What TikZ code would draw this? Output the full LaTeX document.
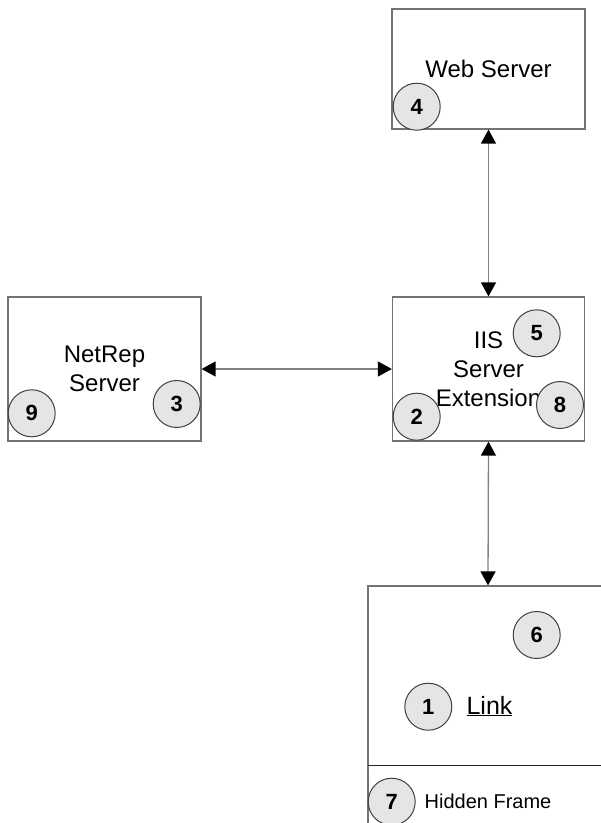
\documentclass[tikz,border=0pt]{standalone}
\usepackage{fontspec}
\setmainfont{Liberation Sans}
\usetikzlibrary{arrows.meta}
\begin{document}
\begin{tikzpicture}[x=1pt,y=-1pt,
  box/.style={draw=black!55,line width=1.2pt,fill=white,inner sep=0pt,align=center,
    font=\fontsize{24}{29}\selectfont},
  num/.style={circle,draw=black!75,line width=1pt,fill=black!10,minimum size=47pt,inner sep=0pt,
    font=\fontsize{22}{22}\selectfont\bfseries},
  biarrow/.style={draw=black!50,line width=1.3pt,
    {Triangle[length=14pt,width=15pt,color=black]}-{Triangle[length=14pt,width=15pt,color=black]}},
  lbl/.style={inner sep=0pt},
]
\useasboundingbox (0,0) rectangle (601,823);
\clip (0,0) rectangle (601,823);
% boxes
\node[box,minimum width=193pt,minimum height=120pt] (web) at (488.5,69) {Web Server};
\node[box,minimum width=193pt,minimum height=144pt] (netrep) at (104.5,369) {NetRep\\Server};
\node[box,minimum width=192pt,minimum height=144pt] (iis) at (488.5,369) {IIS\\Server\\Extension};
\node[box,minimum width=240pt,minimum height=260pt] (link) at (488,716) {};
\coordinate (divl) at (368,765.7);
\coordinate (divr) at (612,765.7);
\draw[black!85,line width=1.5pt] (divl) -- (divr);
% texts
\node[lbl,font=\fontsize{25}{25}\selectfont] (linktext) at (489.5,706) {\underline{Link}};
\node[lbl,font=\fontsize{20}{20}\selectfont] (hidden) at (488,801.7) {Hidden Frame};
% arrows
\draw[biarrow] (web.south) -- (iis.north);
\draw[biarrow] (netrep.east) -- (iis.west);
\draw[biarrow] (iis.south) -- (link.north);
% numbered circles
\node[num] (n4) at (416.7,106.7) {4};
\node[num] (n3) at (176.7,404) {3};
\node[num] (n9) at (31.7,413.3) {9};
\node[num] (n5) at (536.7,333.3) {5};
\node[num] (n2) at (416.7,416.7) {2};
\node[num] (n8) at (560,405) {8};
\node[num] (n6) at (536.7,635) {6};
\node[num] (n1) at (428.3,706.7) {1};
\node[num] (n7) at (391.7,801.7) {7};
\end{tikzpicture}
\end{document}
